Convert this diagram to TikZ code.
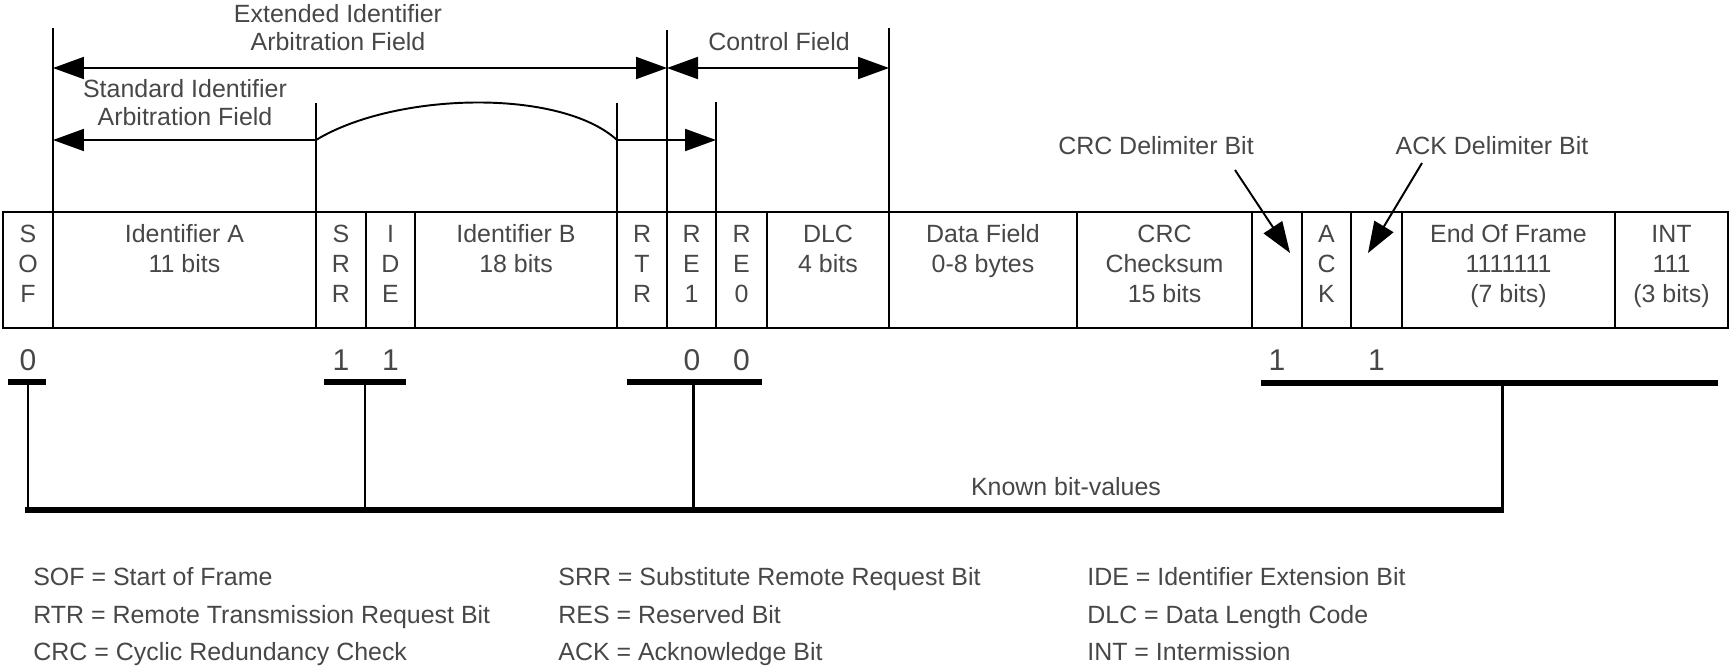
\documentclass[tikz,border=0pt]{standalone}
\usepackage{fontspec}
\setmainfont{Liberation Sans}
\usetikzlibrary{arrows.meta}

\tikzset{
  bigtip/.tip={Triangle[length=0.62cm,width=0.44cm]},
  txt/.style={text=black!72, inner sep=0pt, align=center, anchor=base,
    font=\fontsize{14.2}{15.9}\selectfont},
  cell/.style={txt, font=\fontsize{14.2}{16.8}\selectfont},
  bitval/.style={txt, font=\fontsize{17.1}{20}\selectfont},
  legend/.style={txt, anchor=base west, align=left},
  frame/.style={black, line width=1.6pt},
  sep/.style={black, line width=1.1pt},
  guide/.style={black, line width=1.1pt},
  thinguide/.style={black, line width=0.6pt},
  span/.style={black, line width=1.1pt, bigtip-bigtip},
  pointer/.style={black, line width=1.1pt, -bigtip},
  bar/.style={black, line width=3.4pt},
  stem/.style={black, line width=1.7pt}
}

\begin{document}
\begin{tikzpicture}[x=0.02cm, y=-0.02cm]
  \useasboundingbox (0,0) rectangle (1730,670);

  % frame and its fields (y = baseline of the last line)
  \draw[frame] (3,212) rectangle (1728,328);
  \foreach \x in {53,316,366,415,617,667,716,767,889,1077,1252,1302,1351,1402,1615}
    \draw[sep] (\x,212) -- (\x,328);
  \foreach \x/\y/\name/\lbl in {28/302/sof/{S\\O\\F}, 184.5/272.5/ida/{Identifier A\\11 bits},
      341/302/srr/{S\\R\\R}, 390.5/302/ide/{I\\D\\E}, 516/272.5/idb/{Identifier B\\18 bits},
      642/302/rtr/{R\\T\\R}, 691.5/302/reone/{R\\E\\1}, 741.5/302/rezero/{R\\E\\0},
      828/272.5/dlc/{DLC\\4 bits}, 983/272.5/data/{Data Field\\0-8 bytes},
      1164.5/302/crc/{CRC\\Checksum\\15 bits}, 1326.5/302/ack/{A\\C\\K},
      1508.5/302/eof/{End Of Frame\\1111111\\(7 bits)}, 1671.5/302/int/{INT\\111\\(3 bits)}}
    \node[cell] (\name) at (\x,\y) {\lbl};

  % arbitration and control fields
  \draw[guide] (53,28) -- (53,212);
  \draw[guide] (667,30) -- (667,212);
  \draw[guide] (889,28) -- (889,212);
  \draw[guide] (716,102) -- (716,212);
  \draw[thinguide] (316,103) -- (316,212);
  \draw[thinguide] (617,103) -- (617,212);

  \coordinate (extL) at (53,68);
  \coordinate (extR) at (667,68);
  \coordinate (ctlR) at (889,68);
  \coordinate (stdL) at (53,140);
  \coordinate (stdR) at (716,140);
  \draw[span] (extL) -- (extR);
  \draw[span] (extR) -- (ctlR);
  \draw[span] (stdL) -- (316,140) .. controls (395,92) and (560,88) .. (617,140) -- (stdR);

  \node[txt] (extlbl) at (338,50) {Extended Identifier\\Arbitration Field};
  \node[txt] (ctllbl) at (779,50) {Control Field};
  \node[txt] (stdlbl) at (185,125) {Standard Identifier\\Arbitration Field};

  % delimiter bits
  \node[txt] (crclbl) at (1156,154) {CRC Delimiter Bit};
  \node[txt] (acklbl) at (1492,154) {ACK Delimiter Bit};
  \coordinate (crcfrom) at (1235,170);
  \coordinate (crcto) at (1290,253);
  \coordinate (ackfrom) at (1422,163);
  \coordinate (ackto) at (1368,253);
  \draw[pointer] (crcfrom) -- (crcto);
  \draw[pointer] (ackfrom) -- (ackto);

  % known bit values
  \foreach \x/\v [count=\i] in {28/0, 341/1, 390.5/1, 692/0, 741.5/0, 1277/1, 1376.5/1}
    \node[bitval] (bit\i) at (\x,370) {\v};
  \draw[bar] (8,382) -- (46,382);
  \draw[bar] (324,382) -- (406,382);
  \draw[bar] (627,382) -- (762,382);
  \draw[bar] (1261,383) -- (1718,383);
  \draw[stem] (28,382) -- (28,510);
  \draw[stem] (365,382) -- (365,510);
  \draw[stem] (693,382) -- (693,510);
  \draw[stem] (1502,383) -- (1502,510);
  \draw[bar] (25,510) -- (1504,510);
  \node[txt] (known) at (1066,495) {Known bit-values};

  % legend
  \node[legend] (lsof) at (33,585) {SOF = Start of Frame};
  \node[legend] (lrtr) at (33,623) {RTR = Remote Transmission Request Bit};
  \node[legend] (lcrc) at (33,660) {CRC = Cyclic Redundancy Check};
  \node[legend] (lsrr) at (558,585) {SRR = Substitute Remote Request Bit};
  \node[legend] (lres) at (558,623) {RES = Reserved Bit};
  \node[legend] (lack) at (558,660) {ACK = Acknowledge Bit};
  \node[legend] (lide) at (1087,585) {IDE = Identifier Extension Bit};
  \node[legend] (ldlc) at (1087,623) {DLC = Data Length Code};
  \node[legend] (lint) at (1087,660) {INT = Intermission};
\end{tikzpicture}
\end{document}
